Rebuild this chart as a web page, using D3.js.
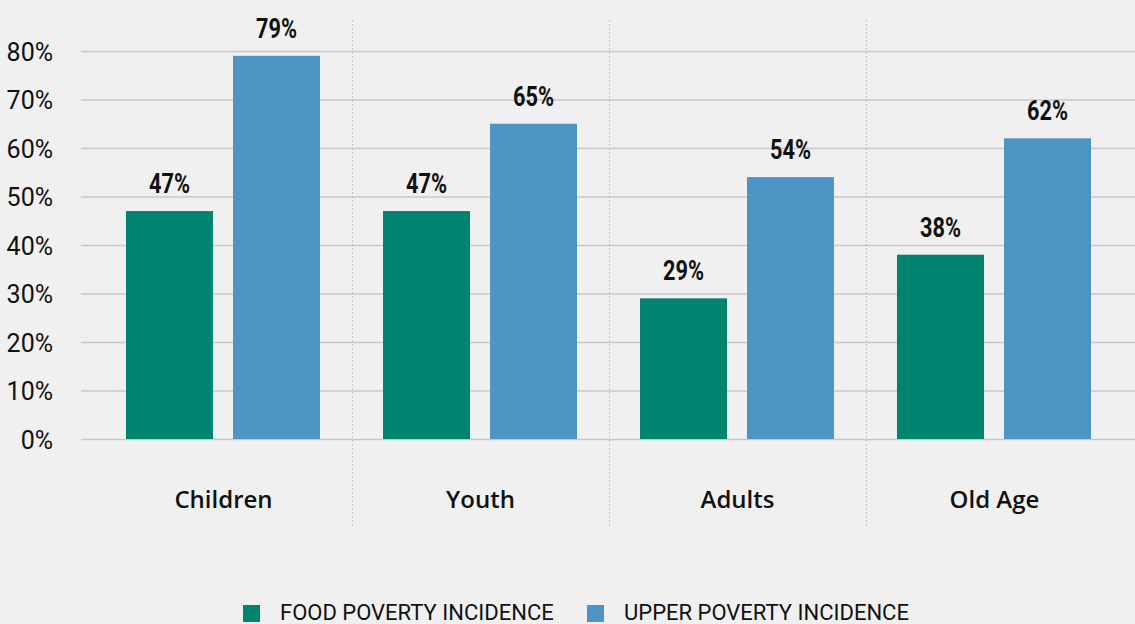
<!DOCTYPE html>
<html>
<head>
<meta charset="utf-8">
<script src="https://cdn.jsdelivr.net/npm/d3@7"></script>
<style>
  html, body { margin: 0; padding: 0; background: #f0f0f0; }
  svg { display: block; }
</style>
</head>
<body>
<svg id="chart" width="1135" height="624"></svg>
<script>
// Poverty incidence by age group
const categories = ["Children", "Youth", "Adults", "Old Age"];
const seriesNames = ["FOOD POVERTY INCIDENCE", "UPPER POVERTY INCIDENCE"];
const foodPoverty = [47, 47, 29, 38];
const upperPoverty = [79, 65, 54, 62];
const yTicks = [0, 10, 20, 30, 40, 50, 60, 70, 80];
const colors = ["#00836f", "#4e95c6"];

const svg = d3.select("#chart");
const W = 1135;
const narrow = "'Liberation Sans Narrow', 'Roboto', sans-serif";

const x0 = d3.scaleBand().domain(categories).range([95, 1123]);
// inner band: two bars of equal width separated by a small gap
const x1 = d3.scaleBand().domain([0, 1]).range([31, x0.bandwidth() - 32]).paddingInner(20 / 107);
const y = d3.scaleLinear().domain([0, 80]).range([439, 51]);

// horizontal gridlines and y labels
const yAxis = d3.axisLeft(y).tickValues(yTicks).tickFormat(d => d + "%").tickSize(-(W - 81)).tickPadding(28);
const gy = svg.append("g").attr("transform", "translate(81,0)").call(yAxis);
gy.select(".domain").remove();
gy.selectAll(".tick line").attr("stroke", "#c8c8c8").attr("stroke-width", 1.5);
gy.selectAll(".tick text")
  .attr("fill", "#111")
  .attr("dy", "0.36em")
  .style("font-family", narrow)
  .style("font-size", "25px");

// dotted separators between groups
svg.append("g").selectAll("line")
  .data(categories.slice(1))
  .join("line")
  .attr("x1", d => Math.round(x0(d)) + 0.5)
  .attr("x2", d => Math.round(x0(d)) + 0.5)
  .attr("y1", 20).attr("y2", 526)
  .attr("stroke", "#b8b8b8").attr("stroke-width", 1).attr("stroke-dasharray", "1.5,2.5");

const rows = categories.map((c, i) => ({ cat: c, vals: [foodPoverty[i], upperPoverty[i]] }));

const groups = svg.append("g").selectAll("g")
  .data(rows).join("g")
  .attr("transform", d => `translate(${x0(d.cat)},0)`);

groups.selectAll("rect")
  .data(d => d.vals.map((v, k) => ({ v, k })))
  .join("rect")
  .attr("x", d => x1(d.k))
  .attr("width", x1.bandwidth())
  .attr("y", d => y(d.v))
  .attr("height", d => y(0) - y(d.v))
  .attr("fill", d => colors[d.k]);

// value labels, condensed bold
groups.selectAll("text.val")
  .data(d => d.vals.map((v, k) => ({ v, k })))
  .join("text")
  .attr("class", "val")
  .attr("x", d => x1(d.k) + x1.bandwidth() / 2)
  .attr("y", d => y(d.v) - 18)
  .attr("text-anchor", "middle")
  .attr("textLength", 41)
  .attr("lengthAdjust", "spacingAndGlyphs")
  .attr("fill", "#111")
  .style("font-family", narrow)
  .style("font-weight", "bold")
  .style("font-size", "27px")
  .text(d => d.v + "%");

// category labels
svg.append("g").selectAll("text")
  .data(categories).join("text")
  .attr("x", d => x0(d) + x0.bandwidth() / 2)
  .attr("y", 508)
  .attr("text-anchor", "middle")
  .attr("fill", "#111")
  .style("font-family", "'Open Sans', sans-serif")
  .style("font-weight", 600)
  .style("font-size", "24px")
  .text(d => d);

// legend
const legendX = [243, 587];
const legend = svg.append("g").selectAll("g")
  .data(seriesNames).join("g")
  .attr("transform", (d, i) => `translate(${legendX[i]},0)`);
legend.append("rect").attr("x", 0).attr("y", 605).attr("width", 17).attr("height", 17)
  .attr("fill", (d, i) => colors[i]);
legend.append("text").attr("x", 37).attr("y", 620)
  .attr("fill", "#111")
  .style("font-family", narrow)
  .style("font-size", "22px")
  .text(d => d);
</script>
</body>
</html>
